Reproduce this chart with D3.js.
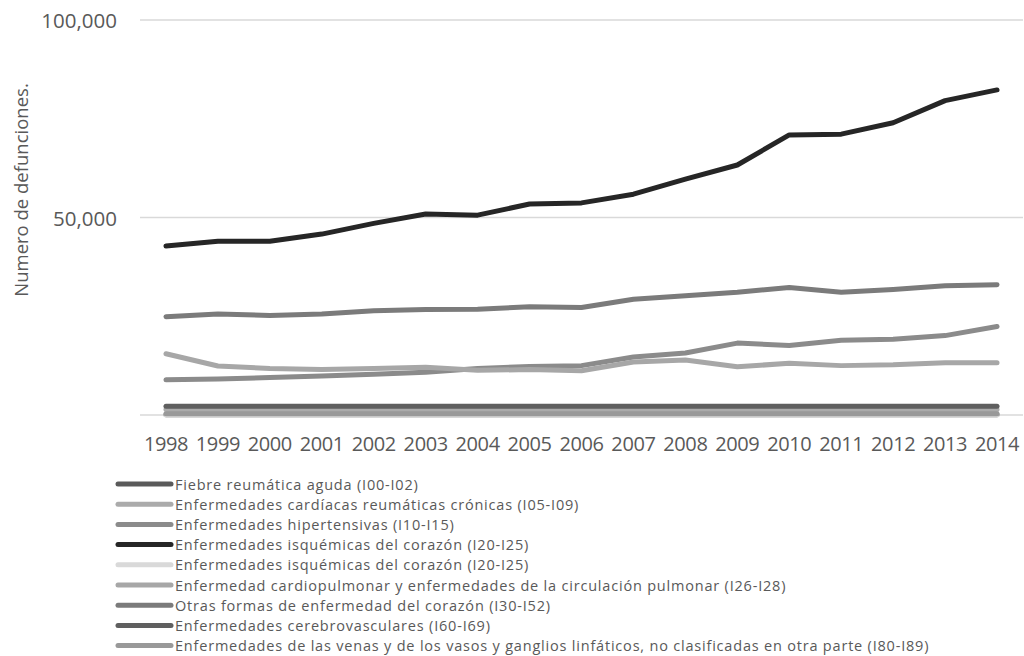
<!DOCTYPE html>
<html>
<head>
<meta charset="utf-8">
<script src="https://cdn.jsdelivr.net/npm/d3@7"></script>
<style>
  html, body { margin: 0; padding: 0; background: #fff; }
  svg { display: block; font-family: "Open Sans", "Noto Sans", sans-serif; }
</style>
</head>
<body>
<svg id="chart" width="1024" height="656"></svg>
<script>
// Years on the category axis
const years = ["1998","1999","2000","2001","2002","2003","2004","2005","2006",
               "2007","2008","2009","2010","2011","2012","2013","2014"];

// Series names (legend order = drawing order)
const seriesNames = [
  "Fiebre reumática aguda (I00-I02)",
  "Enfermedades cardíacas reumáticas crónicas (I05-I09)",
  "Enfermedades hipertensivas (I10-I15)",
  "Enfermedades isquémicas del corazón (I20-I25)",
  "Enfermedades isquémicas del corazón (I20-I25)",
  "Enfermedad cardiopulmonar y enfermedades de la circulación pulmonar (I26-I28)",
  "Otras formas de enfermedad del corazón (I30-I52)",
  "Enfermedades cerebrovasculares (I60-I69)",
  "Enfermedades de las venas y de los vasos y ganglios linfáticos, no clasificadas en otra parte (I80-I89)"
];

// Deaths per year, one array per series
const fiebre      = [50,50,50,50,50,50,50,50,50,50,50,50,50,50,50,50,50];
const reumaticas  = [1400,1400,1400,1400,1400,1400,1400,1400,1400,1400,1400,1400,1400,1400,1400,1400,1400];
const hipertens   = [8900,9100,9500,9900,10300,10800,11800,12300,12500,14700,15700,18200,17600,18900,19200,20100,22400];
const isquemicas  = [42800,44000,44000,45800,48500,50900,50600,53400,53700,55900,59700,63300,70900,71100,74000,79600,82300];
const isquemicas2 = [0,0,0,0,0,0,0,0,0,0,0,0,0,0,0,0,0];
const cardiopulm  = [15500,12400,11800,11500,11800,12100,11300,11500,11200,13400,13900,12200,13100,12500,12700,13200,13200];
const otrasFormas = [24900,25600,25200,25600,26400,26700,26800,27400,27200,29300,30200,31100,32300,31100,31800,32700,33000];
const cerebro     = [2200,2200,2200,2200,2200,2200,2200,2200,2200,2200,2200,2200,2200,2200,2200,2200,2200];
const venas       = [300,300,300,300,300,300,300,300,300,300,300,300,300,300,300,300,300];

const seriesValues = [fiebre, reumaticas, hipertens, isquemicas, isquemicas2,
                      cardiopulm, otrasFormas, cerebro, venas];
const seriesColors = ["#5a5a5a","#ababab","#8b8b8b","#262626","#d9d9d9",
                      "#a7a7a7","#7b7b7b","#5f5f5f","#999999"];

// Value-axis ticks
const yTicks = [50000, 100000];
const yTitle = "Numero de defunciones.";

const svg = d3.select("#chart");

const plot = { left: 140, right: 1023, top: 20, bottom: 415 };

const x = d3.scaleBand().domain(years).range([plot.left, plot.right]).padding(0);
const y = d3.scaleLinear().domain([0, 100000]).range([plot.bottom, plot.top]);
const cx = d => x(d) + x.bandwidth() / 2;

// Horizontal gridlines
svg.append("g").selectAll("line").data(yTicks).join("line")
  .attr("x1", plot.left).attr("x2", plot.right)
  .attr("y1", d => y(d)).attr("y2", d => y(d))
  .attr("stroke", "#d9d9d9").attr("stroke-width", 1.3);

// Category axis baseline
svg.append("line")
  .attr("x1", plot.left).attr("x2", plot.right)
  .attr("y1", y(0)).attr("y2", y(0))
  .attr("stroke", "#d9d9d9").attr("stroke-width", 1.3);

// Value-axis labels
const fmt = d3.format(",");
svg.append("g").selectAll("text").data(yTicks).join("text")
  .attr("x", 117).attr("y", d => y(d))
  .attr("text-anchor", "end").attr("dominant-baseline", "central")
  .attr("fill", "#595959").attr("font-size", 20.5)
  .text(d => fmt(d));

// Value-axis title
svg.append("text")
  .attr("transform", "translate(20,190) rotate(-90)")
  .attr("text-anchor", "middle").attr("dominant-baseline", "central")
  .attr("fill", "#595959").attr("font-size", 18.5)
  .text(yTitle);

// Category labels
svg.append("g").selectAll("text").data(years).join("text")
  .attr("x", d => cx(d)).attr("y", 443)
  .attr("text-anchor", "middle").attr("dominant-baseline", "central")
  .attr("fill", "#595959").attr("font-size", 20)
  .attr("letter-spacing", -0.4)
  .text(d => d);

// Series lines
const line = d3.line()
  .x((d, i) => cx(years[i]))
  .y(d => y(d));

svg.append("g").selectAll("path").data(seriesValues).join("path")
  .attr("d", d => line(d))
  .attr("fill", "none")
  .attr("stroke", (d, i) => seriesColors[i])
  .attr("stroke-width", 5)
  .attr("stroke-linejoin", "round")
  .attr("stroke-linecap", "round");

// Legend
const legend = svg.append("g");
const rowH = 20.2;
const rows = legend.selectAll("g").data(seriesNames).join("g")
  .attr("transform", (d, i) => `translate(0,${484 + i * rowH})`);
rows.append("line")
  .attr("x1", 118).attr("x2", 171).attr("y1", 0).attr("y2", 0)
  .attr("stroke", (d, i) => seriesColors[i])
  .attr("stroke-width", 5).attr("stroke-linecap", "round");
rows.append("text")
  .attr("x", 175).attr("y", 0)
  .attr("dominant-baseline", "central")
  .attr("fill", "#595959").attr("font-size", 14.5)
  .attr("letter-spacing", 0.8)
  .text(d => d);
</script>
</body>
</html>
